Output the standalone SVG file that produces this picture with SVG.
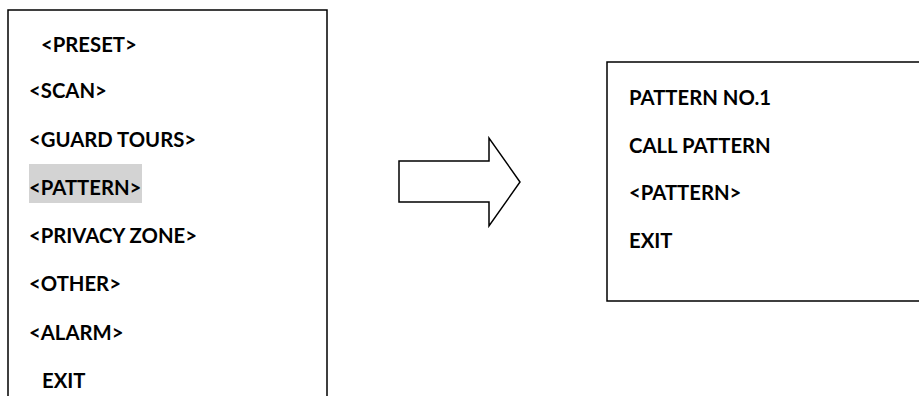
<svg xmlns="http://www.w3.org/2000/svg" width="919" height="398" viewBox="0 0 919 398">
  <style>
    .frame { fill: #ffffff; stroke: #000000; stroke-width: 1.5; }
    .edge { fill: none; stroke: #000000; stroke-width: 1.5; }
    .item { font-family: Lato, "Open Sans", "Liberation Sans", sans-serif; font-weight: 700; font-size: 20.3px; fill: #000000; }
    .hl { fill: #d3d3d3; }
  </style>

  <!-- main menu panel (open at the bottom) -->
  <g id="main-menu">
    <path class="edge" d="M8,396 V10 H327 V396"/>
    <rect class="hl" x="29" y="164" width="113" height="39"/>
    <text class="item" x="41" y="52">&lt;PRESET&gt;</text>
    <text class="item" x="29" y="98">&lt;SCAN&gt;</text>
    <text class="item" x="29" y="147">&lt;GUARD TOURS&gt;</text>
    <text class="item" x="29" y="195">&lt;PATTERN&gt;</text>
    <text class="item" x="29" y="243">&lt;PRIVACY ZONE&gt;</text>
    <text class="item" x="29" y="291">&lt;OTHER&gt;</text>
    <text class="item" x="29" y="340">&lt;ALARM&gt;</text>
    <text class="item" x="42" y="388">EXIT</text>
  </g>

  <!-- block arrow between the two menus -->
  <g id="connectors">
    <path class="frame" d="M399,161 H489 V138 L520,182 L489,226 V202 H399 Z"/>
  </g>

  <!-- pattern submenu panel -->
  <g id="pattern-menu">
    <path class="edge" d="M920,62 H607 V301 H920"/>
    <text class="item" x="629" y="105">PATTERN NO.1</text>
    <text class="item" x="629" y="153">CALL PATTERN</text>
    <text class="item" x="629" y="200">&lt;PATTERN&gt;</text>
    <text class="item" x="629" y="248">EXIT</text>
  </g>
</svg>
